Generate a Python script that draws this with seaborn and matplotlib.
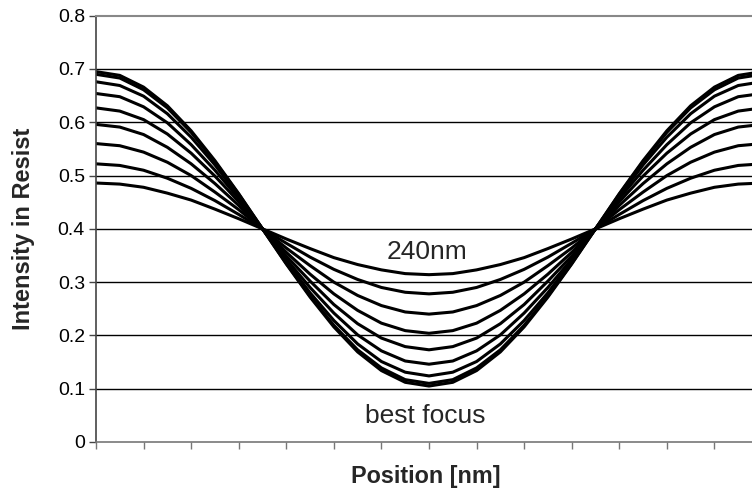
import numpy as np
import pandas as pd
import matplotlib
matplotlib.use("Agg")
import matplotlib.pyplot as plt
import seaborn as sns

# Position samples (arbitrary units along one period, ticks every 20)
position = [0, 10, 20, 30, 40, 50, 60, 70, 80, 90, 100, 110, 120, 130, 140,
            150, 160, 170, 180, 190, 200, 210, 220, 230, 240, 250, 260, 270, 280]

# Intensity curves, best focus first, 240nm defocus last
focus_0 = [0.695, 0.688, 0.666, 0.631, 0.584, 0.528, 0.466, 0.400, 0.334, 0.272, 0.216, 0.169, 0.134, 0.112, 0.105,
           0.112, 0.134, 0.169, 0.216, 0.272, 0.334, 0.400, 0.466, 0.528, 0.584, 0.631, 0.666, 0.688, 0.695]
focus_1 = [0.690, 0.683, 0.661, 0.627, 0.581, 0.526, 0.465, 0.400, 0.335, 0.274, 0.219, 0.173, 0.139, 0.117, 0.110,
           0.117, 0.139, 0.173, 0.219, 0.274, 0.335, 0.400, 0.465, 0.526, 0.581, 0.627, 0.661, 0.683, 0.690]
focus_2 = [0.676, 0.669, 0.649, 0.616, 0.572, 0.520, 0.461, 0.400, 0.339, 0.280, 0.228, 0.184, 0.151, 0.131, 0.124,
           0.131, 0.151, 0.184, 0.228, 0.280, 0.339, 0.400, 0.461, 0.520, 0.572, 0.616, 0.649, 0.669, 0.676]
focus_3 = [0.654, 0.648, 0.629, 0.599, 0.558, 0.510, 0.457, 0.400, 0.343, 0.290, 0.242, 0.201, 0.171, 0.152, 0.146,
           0.152, 0.171, 0.201, 0.242, 0.290, 0.343, 0.400, 0.457, 0.510, 0.558, 0.599, 0.629, 0.648, 0.654]
focus_4 = [0.627, 0.621, 0.605, 0.578, 0.542, 0.499, 0.451, 0.400, 0.349, 0.302, 0.258, 0.222, 0.195, 0.179, 0.173,
           0.179, 0.195, 0.222, 0.258, 0.302, 0.349, 0.400, 0.451, 0.499, 0.542, 0.578, 0.605, 0.621, 0.627]
focus_5 = [0.596, 0.591, 0.577, 0.553, 0.522, 0.485, 0.444, 0.400, 0.356, 0.315, 0.278, 0.247, 0.223, 0.209, 0.204,
           0.209, 0.223, 0.247, 0.278, 0.315, 0.356, 0.400, 0.444, 0.485, 0.522, 0.553, 0.577, 0.591, 0.596]
focus_6 = [0.560, 0.556, 0.544, 0.525, 0.500, 0.469, 0.436, 0.400, 0.364, 0.331, 0.300, 0.275, 0.256, 0.244, 0.240,
           0.244, 0.256, 0.275, 0.300, 0.331, 0.364, 0.400, 0.436, 0.469, 0.500, 0.525, 0.544, 0.556, 0.560]
focus_7 = [0.522, 0.519, 0.510, 0.495, 0.476, 0.453, 0.427, 0.400, 0.373, 0.347, 0.324, 0.305, 0.290, 0.281, 0.278,
           0.281, 0.290, 0.305, 0.324, 0.347, 0.373, 0.400, 0.427, 0.453, 0.476, 0.495, 0.510, 0.519, 0.522]
focus_8 = [0.486, 0.484, 0.478, 0.467, 0.454, 0.437, 0.419, 0.400, 0.381, 0.363, 0.346, 0.333, 0.323, 0.316, 0.314,
           0.316, 0.323, 0.333, 0.346, 0.363, 0.381, 0.400, 0.419, 0.437, 0.454, 0.467, 0.478, 0.484, 0.486]

curve_names = ["f0", "f1", "f2", "f3", "f4", "f5", "f6", "f7", "f8"]
curves = [focus_0, focus_1, focus_2, focus_3, focus_4, focus_5, focus_6, focus_7, focus_8]

y_ticks = [0, 0.1, 0.2, 0.3, 0.4, 0.5, 0.6, 0.7, 0.8]
y_tick_labels = ["0", "0.1", "0.2", "0.3", "0.4", "0.5", "0.6", "0.7", "0.8"]

rows = []
for name, vals in zip(curve_names, curves):
    for p, v in zip(position, vals):
        rows.append({"Position": p, "Intensity": v, "curve": name})
df = pd.DataFrame(rows)

sns.set_theme(style="white")
plt.rcParams['font.family'] = ['Liberation Sans', 'DejaVu Sans']

fig = plt.figure(figsize=(7.52, 4.92), dpi=100)
ax = fig.add_axes([96 / 752, 50 / 492, 666 / 752, 426.3 / 492])

sns.lineplot(data=df, x="Position", y="Intensity", hue="curve",
             palette=["black"] * len(curve_names), linewidth=2.2,
             legend=False, ax=ax, sort=False)

ax.set_xlim(0, 280)
ax.set_ylim(0, 0.8)
ax.set_yticks(y_ticks)
ax.set_yticklabels(y_tick_labels)
ax.set_xticks(list(range(0, 281, 20)))
ax.set_xticklabels([])

for y in y_ticks[1:-1]:
    ax.axhline(y, color="black", linewidth=1.0, zorder=0)

ax.spines["right"].set_visible(False)
ax.spines["top"].set_color("#888888")
ax.spines["top"].set_linewidth(1.5)
ax.spines["left"].set_color("#444444")
ax.spines["left"].set_linewidth(1.2)
ax.spines["bottom"].set_color("#777777")
ax.spines["bottom"].set_linewidth(1.2)

ax.tick_params(axis="y", direction="out", length=5, width=1, color="#444444",
               labelsize=14, pad=3, left=True, labelcolor="black")
ax.tick_params(axis="x", direction="out", length=5, width=1, color="#777777", bottom=True)

ax.set_xlabel("Position [nm]", fontsize=16.8, fontweight="bold", va="baseline")
ax.xaxis.set_label_coords(0.4955, -0.0955)
ax.set_ylabel("Intensity in Resist", fontsize=17, fontweight="bold", va="center", ha="center")
ax.yaxis.set_label_coords(-0.1096, 0.5)

ax.text(139, 0.343, "240nm", ha="center", va="baseline", fontsize=19)
ax.text(138.3, 0.035, "best focus", ha="center", va="baseline", fontsize=19)

fig.savefig("out.png", dpi=100)
